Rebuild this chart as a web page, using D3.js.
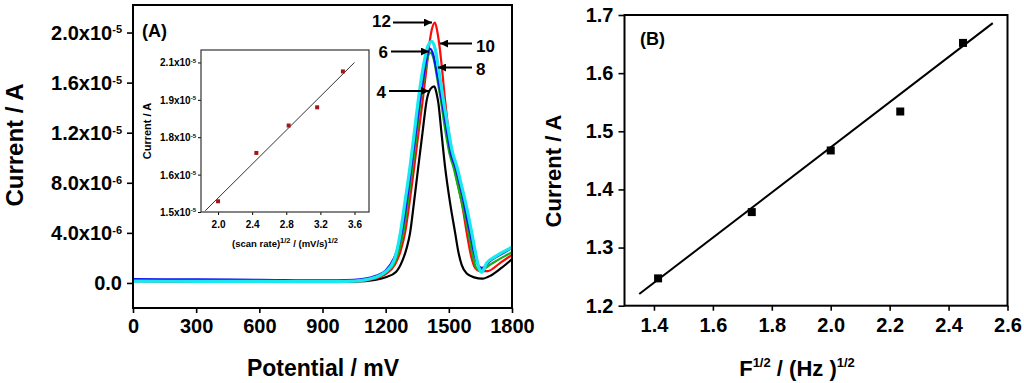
<!DOCTYPE html>
<html><head><meta charset="utf-8">
<script src="https://cdn.jsdelivr.net/npm/d3@7"></script>
<style>
body{margin:0;background:#fff}
text{font-family:"Liberation Sans",Arial,sans-serif;font-weight:bold;fill:#000}
</style>
</head><body><svg id="c" width="1024" height="383"></svg>
<script>
// ---------------- DATA ----------------
// Panel A: DPV curves (Potential mV, Current in 1e-6 A), scan rates 4,6,8,10,12 mV/s
const curve4 = [[0,0.15],[300,0.12],[600,0.1],[900,0.08],[1050,0.1],[1150,0.25],[1200,0.45],[1250,0.9],[1280,1.8],[1300,2.8],[1316,4.0],[1335,6.5],[1355,9.3],[1375,12.0],[1395,14.6],[1413,15.5],[1431,15.7],[1441,15.2],[1450,14.4],[1465,12.0],[1482,9.3],[1505,6.5],[1530,4.0],[1545,2.5],[1561,1.45],[1585,0.75],[1620,0.45],[1660,0.35],[1700,0.6],[1750,1.2],[1800,1.9]];
const curve12 = [[0,0.2],[300,0.18],[600,0.15],[900,0.12],[1050,0.15],[1150,0.35],[1200,0.7],[1245,1.5],[1270,2.5],[1292,4.0],[1314,6.5],[1336,9.3],[1356,12.0],[1376,14.6],[1393,17.0],[1406,18.9],[1420,20.3],[1434,20.8],[1446,20.0],[1458,18.6],[1470,16.7],[1482,14.6],[1503,11.6],[1525,9.3],[1548,7.5],[1568,5.8],[1585,4.0],[1605,2.2],[1625,1.2],[1645,0.95],[1685,0.95],[1740,1.55],[1800,2.25]];
const curve8 = [[0,0.2],[300,0.18],[600,0.15],[900,0.12],[1050,0.18],[1150,0.4],[1200,0.8],[1245,1.7],[1265,2.7],[1284,4.0],[1306,6.5],[1328,9.3],[1348,12.0],[1367,14.6],[1390,17.2],[1411,18.4],[1428,17.9],[1445,16.3],[1462,14.6],[1485,12.0],[1505,10.2],[1521,9.3],[1545,7.6],[1570,5.8],[1593,4.0],[1613,2.2],[1630,1.2],[1650,1.0],[1700,1.5],[1750,2.0],[1800,2.45]];
const curve6 = [[0,0.3],[300,0.28],[600,0.25],[900,0.2],[1050,0.25],[1150,0.55],[1200,1.0],[1240,2.0],[1260,2.9],[1276,4.0],[1300,6.5],[1322,9.3],[1343,12.0],[1363,14.6],[1385,17.0],[1400,18.3],[1411,18.7],[1425,18.3],[1445,16.6],[1466,14.6],[1490,12.2],[1510,10.3],[1530,9.3],[1550,8.0],[1569,6.6],[1585,5.2],[1601,4.0],[1620,2.4],[1640,1.4],[1656,1.2],[1700,1.8],[1750,2.3],[1800,2.8]];
const curve10 = [[0,0.15],[300,0.13],[600,0.12],[900,0.1],[1050,0.15],[1150,0.45],[1200,0.9],[1240,1.8],[1255,2.7],[1270,4.0],[1292,6.5],[1316,9.3],[1336,12.0],[1355,14.6],[1380,17.4],[1400,18.9],[1419,19.3],[1435,18.7],[1455,16.7],[1474,14.6],[1495,12.5],[1515,10.6],[1538,9.3],[1560,7.8],[1585,6.0],[1609,4.0],[1628,2.3],[1645,1.1],[1656,0.85],[1680,1.6],[1720,2.1],[1800,2.85]];
const curveLabels = ["4","12","8","6","10"];

const xTicksA = [0,300,600,900,1200,1500,1800];
const yTicksA = [0,4,8,12,16,20];
const yTickMantA = ["0.0","4.0","8.0","1.2","1.6","2.0"];
const yTickExpA = ["","-6","-6","-5","-5","-5"];

// Inset: peak current vs sqrt(scan rate)
const insetX = [2.0,2.449,2.828,3.162,3.464];
const insetY = [1.543,1.737,1.847,1.920,2.064];
const insetFitX = [1.85,3.6];
const insetFitY = [1.505,2.10];
const insetXTicks = [2.0,2.4,2.8,3.2,3.6];
const insetYTicks = [1.5,1.65,1.8,1.95,2.1];
const insetYTickLabels = ["1.5","1.6","1.8","1.9","2.1"];

// Panel B
const freqX = [1.414,1.732,2.0,2.236,2.449];
const currentB = [1.247,1.361,1.467,1.534,1.652];
const fitBX = [1.35,2.55];
const fitBY = [1.22,1.686];
const xTicksB = [1.4,1.6,1.8,2.0,2.2,2.4,2.6];
const yTicksB = [1.2,1.3,1.4,1.5,1.6,1.7];

// ---------------- STYLE / LAYOUT ----------------
const colors = {"4":"#000000","12":"#ff0a0a","8":"#10b010","6":"#1010ee","10":"#18e8f0"};
const svg = d3.select("#c");

function styleAxis(g){
  g.selectAll(".domain").remove();
  g.selectAll(".tick line").attr("stroke","#000").attr("stroke-width",1.6);
}

// ===== Panel A =====
const A = {x:133,y:5,w:379,h:303};
const gA = svg.append("g").attr("transform",`translate(${A.x},${A.y})`);
const xA = d3.scaleLinear().domain([0,1800]).range([0,A.w]);
const yA = d3.scaleLinear().domain([-2,22.2]).range([A.h,0]);

const gxA = gA.append("g").attr("transform",`translate(0,${A.h})`)
  .call(d3.axisBottom(xA).tickValues(xTicksA).tickSize(5).tickPadding(6).tickFormat(d3.format("d")));
styleAxis(gxA);
gxA.selectAll("text").style("font-size","20px");

const gyA = gA.append("g").call(d3.axisLeft(yA).tickValues(yTicksA).tickSize(6).tickFormat(()=>""));
styleAxis(gyA);
gyA.selectAll(".tick text").remove();
gyA.selectAll(".tick").each(function(d,i){
  const t = d3.select(this).append("text").attr("x",-11).attr("dy","0.35em")
    .attr("text-anchor","end").style("font-size","20px");
  t.append("tspan").text(yTickMantA[i] + (yTickExpA[i] ? "x10" : ""));
  if (yTickExpA[i]) t.append("tspan").attr("dy","-0.6em").style("font-size","11px").text(yTickExpA[i]);
});

const line = d3.line().x(d=>xA(d[0])).y(d=>yA(d[1])).curve(d3.curveMonotoneX);
const curves = {"4":curve4,"12":curve12,"8":curve8,"6":curve6,"10":curve10};
curveLabels.forEach(k=>{
  gA.append("path").attr("d",line(curves[k])).attr("fill","none")
    .attr("stroke",colors[k]).attr("stroke-width",k==="10"?3.2:2.2).attr("stroke-linejoin","round");
});

gA.append("rect").attr("width",A.w).attr("height",A.h).attr("fill","none").attr("stroke","#000").attr("stroke-width",2);

// arrows annotations (absolute px)
const defs = svg.append("defs");
defs.append("marker").attr("id","ah").attr("viewBox","0 0 10 10").attr("refX",10).attr("refY",5)
  .attr("markerWidth",4).attr("markerHeight",4).attr("orient","auto-start-reverse")
  .append("path").attr("d","M0,0L10,5L0,10z").attr("fill","#000");
const ann = [
  {t:"12",tx:391,ty:21,anchor:"end",x1:393,x2:432,y:22.5},
  {t:"10",tx:476,ty:46,anchor:"start",x1:472,x2:440,y:43.5},
  {t:"6",tx:388,ty:52,anchor:"end",x1:391,x2:429,y:51.5},
  {t:"8",tx:476,ty:69,anchor:"start",x1:472,x2:438,y:67.5},
  {t:"4",tx:386,ty:92,anchor:"end",x1:389,x2:429,y:91}
];
ann.forEach(a=>{
  svg.append("line").attr("x1",a.x1).attr("x2",a.x2).attr("y1",a.y).attr("y2",a.y)
    .attr("stroke","#000").attr("stroke-width",2).attr("marker-end","url(#ah)");
  svg.append("text").attr("x",a.tx).attr("y",a.ty).attr("dy","0.35em").attr("text-anchor",a.anchor)
    .style("font-size","17px").text(a.t);
});

svg.append("text").attr("x",142).attr("y",37).style("font-size","18px").text("(A)");
svg.append("text").attr("x",323).attr("y",376).attr("text-anchor","middle").style("font-size","23px").text("Potential / mV");
svg.append("text").attr("transform","translate(23,145) rotate(-90)").attr("text-anchor","middle").style("font-size","24px").text("Current / A");

// ===== Inset =====
const I = {x:201,y:50,w:168,h:162};
const gI = svg.append("g").attr("transform",`translate(${I.x},${I.y})`);
gI.append("rect").attr("width",I.w).attr("height",I.h).attr("fill","#fff").attr("stroke","none");
const xI = d3.scaleLinear().domain([1.8,3.77]).range([0,I.w]);
const yI = d3.scaleLinear().domain([1.5,2.15]).range([I.h,0]);
const gxI = gI.append("g").attr("transform",`translate(0,${I.h})`)
  .call(d3.axisBottom(xI).tickValues(insetXTicks).tickSize(3).tickPadding(6).tickFormat(d3.format(".1f")));
styleAxis(gxI);
gxI.selectAll(".tick line").attr("stroke-width",1);
gxI.selectAll("text").style("font-size","10px");
const gyI = gI.append("g").call(d3.axisLeft(yI).tickValues(insetYTicks).tickSize(3).tickFormat(()=>""));
styleAxis(gyI);
gyI.selectAll(".tick line").attr("stroke-width",1);
gyI.selectAll(".tick text").remove();
gyI.selectAll(".tick").each(function(d,i){
  const t = d3.select(this).append("text").attr("x",-5).attr("dy","0.35em").attr("text-anchor","end").style("font-size","10px");
  t.append("tspan").text(insetYTickLabels[i] + "x10");
  t.append("tspan").attr("dy","-0.6em").style("font-size","6px").text("-5");
});
gI.append("line").attr("x1",xI(insetFitX[0])).attr("x2",xI(insetFitX[1]))
  .attr("y1",yI(insetFitY[0])).attr("y2",yI(insetFitY[1])).attr("stroke","#333").attr("stroke-width",1);
gI.selectAll("rect.pt").data(insetX).enter().append("rect").attr("class","pt")
  .attr("x",(d)=>xI(d)-2).attr("y",(d,i)=>yI(insetY[i])-2).attr("width",4).attr("height",4).attr("fill","#a01818");
gI.append("rect").attr("width",I.w).attr("height",I.h).attr("fill","none").attr("stroke","#333").attr("stroke-width",1.2);
const itx = svg.append("text").attr("x",285).attr("y",247).attr("text-anchor","middle").style("font-size","9.5px");
itx.append("tspan").text("(scan rate)");
itx.append("tspan").attr("dy","-4").style("font-size","7.5px").text("1/2");
itx.append("tspan").attr("dy","4").text(" / (mV/s)");
itx.append("tspan").attr("dy","-4").style("font-size","7.5px").text("1/2");
svg.append("text").attr("transform","translate(151,131) rotate(-90)").attr("text-anchor","middle").style("font-size","11px").text("Current / A");

// ===== Panel B =====
const B = {x:624.5,y:15,w:383,h:290.7};
const gB = svg.append("g").attr("transform",`translate(${B.x},${B.y})`);
const xB = d3.scaleLinear().domain([1.3,2.6]).range([0,B.w]);
const yB = d3.scaleLinear().domain([1.2,1.7]).range([B.h,0]);
const gxB = gB.append("g").attr("transform",`translate(0,${B.h})`)
  .call(d3.axisBottom(xB).tickValues(xTicksB).tickSize(5).tickPadding(7).tickFormat(d3.format(".1f")));
styleAxis(gxB);
gxB.selectAll("text").style("font-size","20px");
const gyB = gB.append("g").call(d3.axisLeft(yB).tickValues(yTicksB).tickSize(6).tickPadding(5).tickFormat(d3.format(".1f")));
styleAxis(gyB);
gyB.selectAll("text").style("font-size","20px");
gB.append("line").attr("x1",xB(fitBX[0])).attr("x2",xB(fitBX[1]))
  .attr("y1",yB(fitBY[0])).attr("y2",yB(fitBY[1])).attr("stroke","#000").attr("stroke-width",2);
gB.selectAll("rect.pt").data(freqX).enter().append("rect").attr("class","pt")
  .attr("x",d=>xB(d)-4).attr("y",(d,i)=>yB(currentB[i])-4).attr("width",8).attr("height",8).attr("fill","#000");
gB.append("rect").attr("width",B.w).attr("height",B.h).attr("fill","none").attr("stroke","#000").attr("stroke-width",2);

svg.append("text").attr("x",640).attr("y",45).style("font-size","18px").text("(B)");
svg.append("text").attr("transform","translate(561,171) rotate(-90)").attr("text-anchor","middle").style("font-size","22px").text("Current / A");
const btx = svg.append("text").attr("x",797).attr("y",376).attr("text-anchor","middle").style("font-size","22px");
btx.append("tspan").text("F");
btx.append("tspan").attr("dy","-9").style("font-size","13px").text("1/2");
btx.append("tspan").attr("dy","9").text(" / (Hz )");
btx.append("tspan").attr("dy","-9").style("font-size","13px").text("1/2");
</script>
</body></html>
